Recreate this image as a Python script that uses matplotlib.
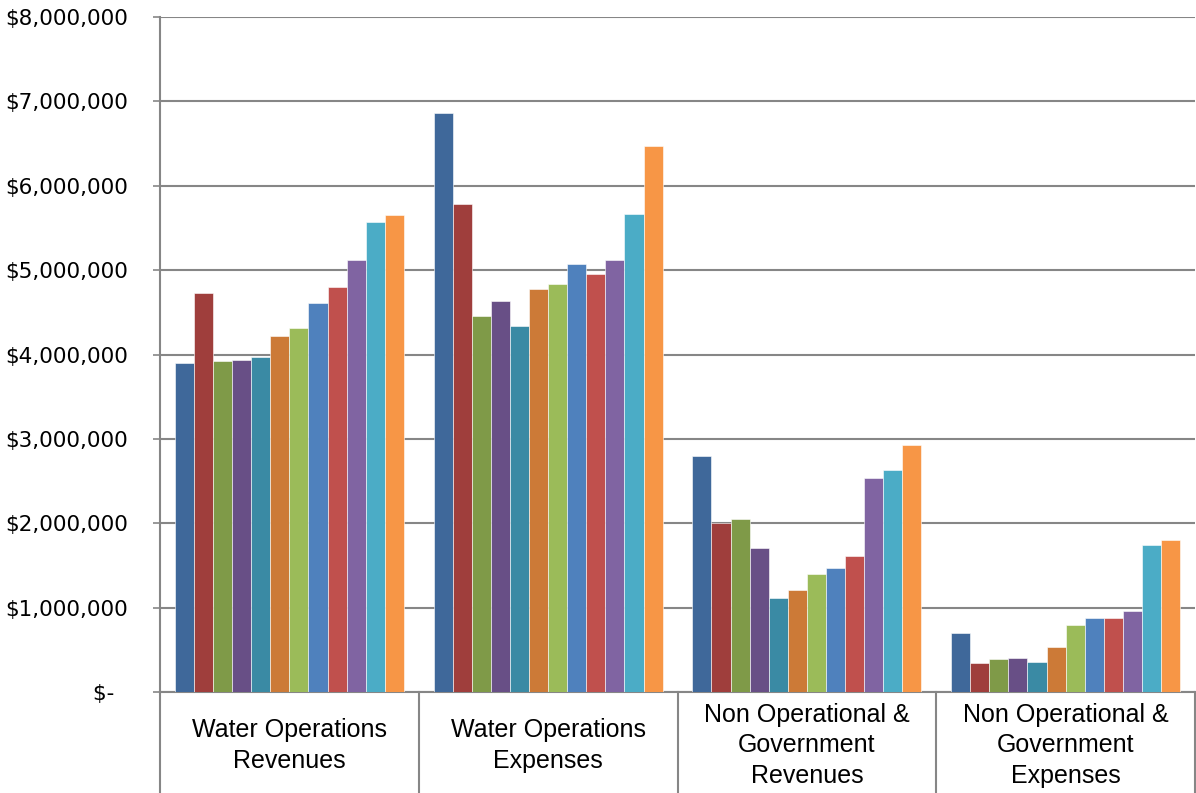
import matplotlib.pyplot as plt
import numpy as np
from matplotlib import font_manager

# Kategorier og værdier (USD)
categories = [
    "Water Operations\nRevenues",
    "Water Operations\nExpenses",
    "Non Operational &\nGovernment\nRevenues",
    "Non Operational &\nGovernment\nExpenses",
]

# 12 serier, hver med en værdi pr. kategori
series_values = [
    [3896000, 6860000, 2799000, 696000],
    [4730000, 5786000, 2004000, 348000],
    [3919000, 4458000, 2055000, 391000],
    [3937000, 4638000, 1705000, 399000],
    [3974000, 4338000, 1110000, 352000],
    [4219000, 4772000, 1205000, 530000],
    [4315000, 4836000, 1398000, 798000],
    [4610000, 5071000, 1469000, 874000],
    [4795000, 4956000, 1606000, 877000],
    [5122000, 5122000, 2531000, 957000],
    [5574000, 5671000, 2630000, 1739000],
    [5657000, 6468000, 2933000, 1802000],
]

series_colors = [
    "#3F689A", "#9F3E3C", "#7F9A48", "#684F86", "#3A8AA4", "#CC7A37",
    "#9BBB59", "#4F81BD", "#C0504D", "#8064A2", "#4BACC6", "#F79646",
]

y_ticks = [0, 1000000, 2000000, 3000000, 4000000, 5000000, 6000000, 7000000, 8000000]
y_tick_labels = ["$-  ", "$1,000,000", "$2,000,000", "$3,000,000", "$4,000,000",
                 "$5,000,000", "$6,000,000", "$7,000,000", "$8,000,000"]

# Skrifttype til kategorinavne
installed = {f.name for f in font_manager.fontManager.ttflist}
cat_font = "Liberation Sans Narrow" if "Liberation Sans Narrow" in installed else "Liberation Sans"

fig = plt.figure(figsize=(11.96, 7.93), dpi=100)
ax = fig.add_axes([160 / 1196, 1 - 692 / 793, 1035 / 1196, 675 / 793])

n = len(series_values)
bar_w = 0.885 / n
x = np.arange(len(categories)) + 0.5
for i, (vals, col) in enumerate(zip(series_values, series_colors)):
    offs = (i - (n - 1) / 2) * bar_w
    ax.bar(x + offs, vals, width=bar_w, color=col, edgecolor="white",
           linewidth=0.4, zorder=3)

ax.set_xlim(0, len(categories))
ax.set_ylim(0, 8000000)
ax.set_yticks(y_ticks)
ax.set_yticklabels(y_tick_labels, fontsize=15.5, family="DejaVu Sans")
ax.tick_params(axis="y", length=5, width=1.2, color="#868686", pad=18)
ax.set_xticks([])
ax.yaxis.grid(True, color="#868686", linewidth=1.5, zorder=0)

for side in ["top", "right"]:
    ax.spines[side].set_visible(False)
for side in ["left", "bottom"]:
    ax.spines[side].set_color("#868686")
    ax.spines[side].set_linewidth(1.5)

# Kategoriskillelinjer under aksen
trans = ax.get_xaxis_transform()
for k in range(len(categories) + 1):
    ax.plot([k, k], [0, -0.16], transform=trans, color="#868686",
            linewidth=1.5, clip_on=False, zorder=4)

# Kategorinavne
for xi, label in zip(x, categories):
    ax.text(xi, -0.079, label, transform=trans, ha="center", va="center",
            fontsize=18, family=cat_font, linespacing=1.35)

fig.savefig("out.png", dpi=100)
